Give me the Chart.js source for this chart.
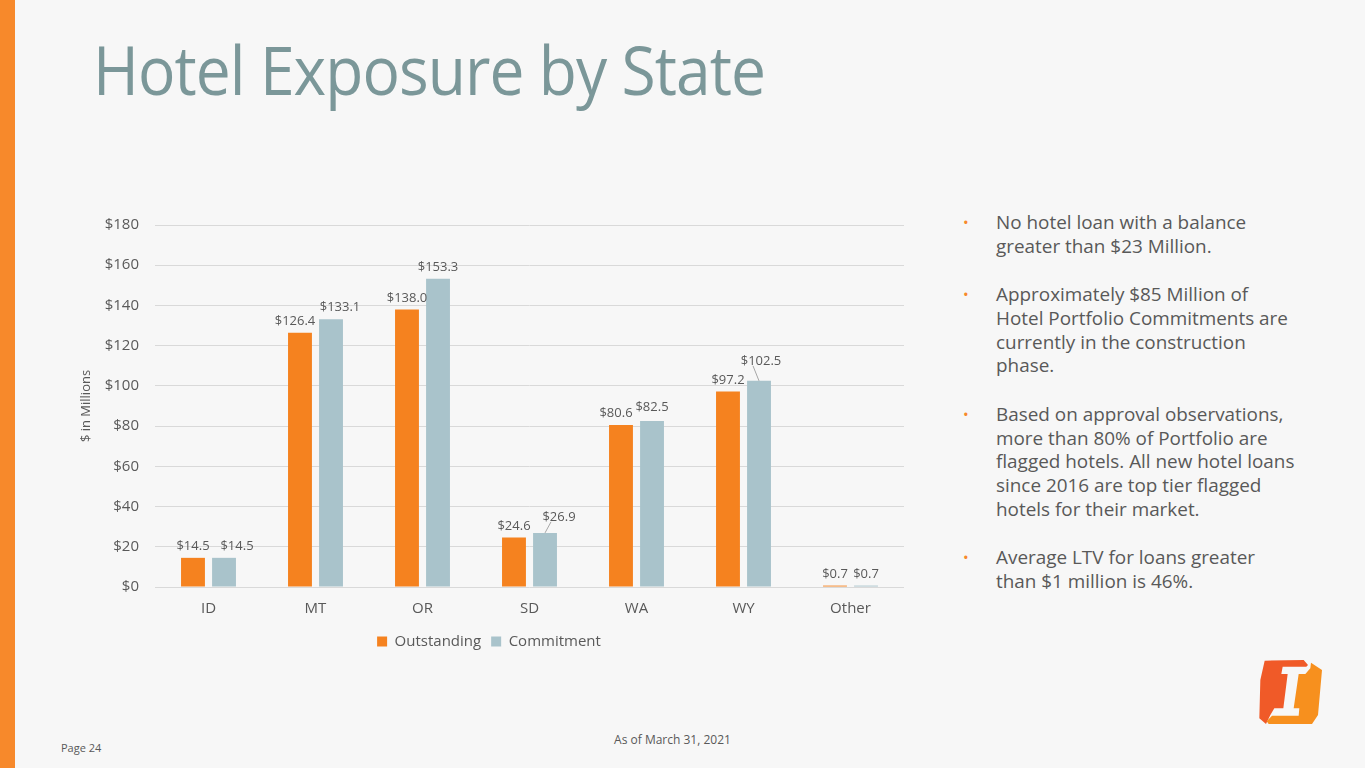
<!DOCTYPE html>
<html>
<head>
<meta charset="utf-8">
<title>Hotel Exposure by State</title>
<script src="https://cdn.jsdelivr.net/npm/chart.js@4.4.1/dist/chart.umd.min.js"></script>
<style>
  body {
    margin: 0;
    width: 1365px;
    height: 768px;
    overflow: hidden;
    position: relative;
    background: #f7f7f7;
    font-family: "Open Sans", sans-serif;
    color: #595959;
  }
  .side { position: absolute; left: 0; top: 0; width: 15px; height: 768px; background: #f7892b; }
  h1 {
    position: absolute; left: 93px; top: 22px; margin: 0;
    font-family: "Open Sans", sans-serif; font-weight: 400;
    font-size: 68px; color: #7b9799; letter-spacing: -1px;
    white-space: nowrap; transform-origin: left top;
  }
  #wrap { position: absolute; left: 60px; top: 200px; width: 860px; height: 463px; }
  ul {
    position: absolute; left: 960px; top: 211px;
    margin: 0; padding: 0; list-style: none;
    font-size: 18.9px; line-height: 23.8px; white-space: nowrap;
  }
  li { position: relative; padding-left: 36px; margin-bottom: 24.5px; }
  li::before { content: "\2022"; position: absolute; left: 3px; top: 0; color: #f7892b; font-size: 15px; }
  .page { position: absolute; left: 61px; top: 740px; font-size: 11px; }
  .asof { position: absolute; left: 0; width: 1345px; text-align: center; top: 731px; font-size: 12px; }
  svg.logo { position: absolute; left: 1242px; top: 650px; }
</style>
</head>
<body>
<div class="side"></div>
<h1 id="title">Hotel Exposure by State</h1>
<div id="wrap"><canvas id="myChart"></canvas></div>
<ul>
  <li>No hotel loan with a balance<br>greater than $23 Million.</li>
  <li>Approximately $85 Million of<br>Hotel Portfolio Commitments are<br>currently in the construction<br>phase.</li>
  <li>Based on approval observations,<br>more than 80% of Portfolio are<br>flagged hotels. All new hotel loans<br>since 2016 are top tier flagged<br>hotels for their market.</li>
  <li>Average LTV for loans greater<br>than $1 million is 46%.</li>
</ul>
<div class="page">Page 24</div>
<div class="asof">As of March 31, 2021</div>
<svg class="logo" width="90" height="80" viewBox="0 0 270 240">
  <polygon fill="#f05a28" points="68,32 185,30 198,45 193,50 122,50 118,72 137,72 124,175 97,175 85,195 72,222 52,205 55,90"/>
  <polygon fill="#f7901e" points="207,38 240,60 228,195 210,222 80,222 74,214 90,197 170,197 172,175 155,175 170,72 190,72 205,55"/>
</svg>

<script>
  var states = ['ID', 'MT', 'OR', 'SD', 'WA', 'WY', 'Other'];
  var outstanding = [14.5, 126.4, 138.0, 24.6, 80.6, 97.2, 0.7];
  var commitment = [14.5, 133.1, 153.3, 26.9, 82.5, 102.5, 0.7];
  var yTicks = [0, 20, 40, 60, 80, 100, 120, 140, 160, 180];

  // hand nudges for the data labels that were moved apart on the slide
  var labelNudge = {
    '1-0': [13, 0], '0-1': [-5, 0], '1-1': [9, -1],
    '1-3': [14, -4, true], '0-4': [-5, 0], '1-4': [0, -2], '1-5': [2, -8, true]
  };

  var valueLabels = {
    id: 'valueLabels',
    afterDatasetsDraw: function(chart) {
      var c = chart.ctx;
      c.save();
      c.font = '13px "Open Sans", sans-serif';
      c.fillStyle = '#595959';
      c.textAlign = 'center';
      c.textBaseline = 'bottom';
      chart.data.datasets.forEach(function(ds, d) {
        chart.getDatasetMeta(d).data.forEach(function(bar, i) {
          var n = labelNudge[d + '-' + i] || [0, 0];
          var x = bar.x + n[0], y = bar.y - 5 + n[1];
          if (n[2]) {
            c.strokeStyle = '#a6a6a6';
            c.lineWidth = 1;
            c.beginPath();
            c.moveTo(bar.x, bar.y);
            c.lineTo(x - 8, y - 2);
            c.stroke();
          }
          c.fillText('$' + ds.data[i].toFixed(1), x, y);
        });
      });
      c.restore();
    }
  };

  var ctx = document.getElementById('myChart').getContext('2d');
  var myChart = new Chart(ctx, {
    type: 'bar',
    data: {
      labels: states,
      datasets: [{
        label: 'Outstanding',
        data: outstanding,
        backgroundColor: '#f5821f'
      }, {
        label: 'Commitment',
        data: commitment,
        backgroundColor: '#a9c3cb'
      }]
    },
    options: {
      responsive: true,
      maintainAspectRatio: false,
      animation: false,
      categoryPercentage: 0.58,
      barPercentage: 0.77,
      layout: { padding: { left: 14, right: 16, top: 21, bottom: 4 } },
      plugins: {
        tooltip: { enabled: false },
        legend: {
          position: 'bottom',
          labels: {
            boxWidth: 10, boxHeight: 10, padding: 10,
            color: '#595959',
            font: { family: '"Open Sans", sans-serif', size: 15 }
          }
        }
      },
      scales: {
        x: {
          afterFit: function(axis) { axis.height = 37; },
          grid: { display: false, drawTicks: false },
          border: { display: false },
          ticks: { color: '#595959', padding: 13, font: { family: '"Open Sans", sans-serif', size: 15 } }
        },
        y: {
          min: 0,
          max: 180,
          afterBuildTicks: function(axis) {
            axis.ticks = yTicks.map(function(v) { return { value: v }; });
          },
          afterFit: function(axis) { axis.width = 81; },
          grid: { color: '#d9d9d9', drawTicks: false },
          border: { display: false },
          title: {
            display: true, text: '$ in Millions', color: '#595959',
            font: { family: '"Open Sans", sans-serif', size: 13 }
          },
          ticks: {
            color: '#595959', padding: 16,
            font: { family: '"Open Sans", sans-serif', size: 15 },
            callback: function(v) { return '$' + v; }
          }
        }
      }
    },
    plugins: [valueLabels]
  });

  // squeeze the title to the slide's width
  var t = document.getElementById('title');
  t.style.transform = 'scaleX(' + (672 / t.offsetWidth) + ')';
</script>
</body>
</html>
